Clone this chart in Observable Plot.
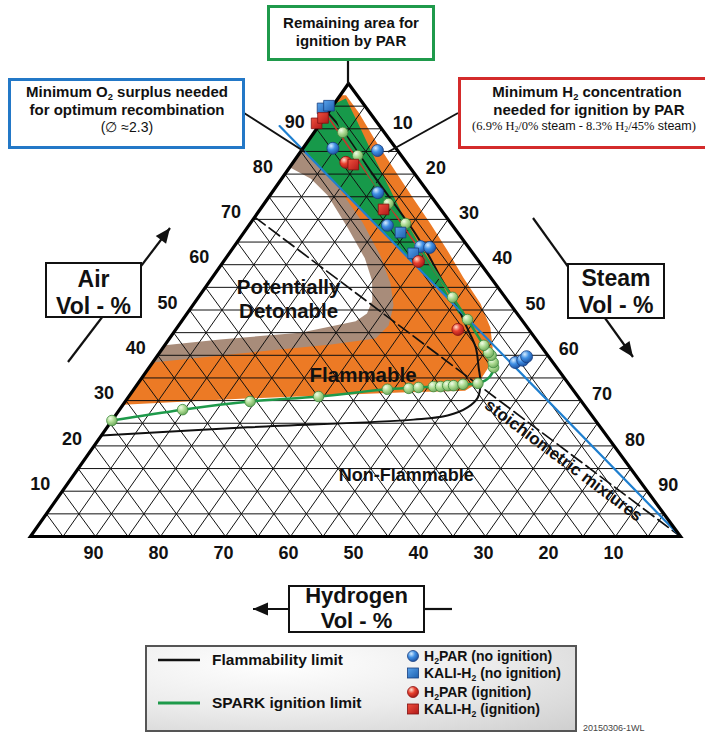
<!DOCTYPE html>
<html>
<head>
<meta charset="utf-8">
<script src="https://cdn.jsdelivr.net/npm/d3@7"></script>
<script src="https://cdn.jsdelivr.net/npm/@observablehq/plot@0.6"></script>
<style>
html,body{margin:0;padding:0;background:#fff;}
#wrap{position:relative;width:705px;height:733px;overflow:hidden;font-family:"Liberation Sans",Arial,Helvetica,sans-serif;color:#111;}
#chart,#overlay{position:absolute;left:0;top:0;}
.box{position:absolute;box-sizing:border-box;background:#fff;}
.t{position:absolute;white-space:nowrap;font-weight:bold;transform:translate(-50%,-50%);line-height:1;}
.tl{position:absolute;white-space:nowrap;font-weight:bold;transform:translateY(-50%);line-height:1;}
.sb{font-size:62%;position:relative;top:0.3em;line-height:0;}
</style>
</head>
<body>
<div id="wrap">
<svg width="0" height="0" style="position:absolute">
 <defs>
  <radialGradient id="gBlue" cx="35%" cy="30%" r="75%">
   <stop offset="0" stop-color="#d6ecff"/><stop offset="0.45" stop-color="#3f8fe4"/><stop offset="1" stop-color="#1b4e9c"/>
  </radialGradient>
  <radialGradient id="gRed" cx="35%" cy="30%" r="75%">
   <stop offset="0" stop-color="#ffe0d0"/><stop offset="0.45" stop-color="#e8402e"/><stop offset="1" stop-color="#a01818"/>
  </radialGradient>
  <radialGradient id="gGreen" cx="35%" cy="30%" r="75%">
   <stop offset="0" stop-color="#f2fce8"/><stop offset="0.5" stop-color="#a9d98e"/><stop offset="1" stop-color="#6aa55a"/>
  </radialGradient>
  <linearGradient id="gBlueSq" x1="0" y1="0" x2="1" y2="1">
   <stop offset="0" stop-color="#5aa3ec"/><stop offset="1" stop-color="#1d5fae"/>
  </linearGradient>
  <linearGradient id="gRedSq" x1="0" y1="0" x2="1" y2="1">
   <stop offset="0" stop-color="#f0503e"/><stop offset="1" stop-color="#b01818"/>
  </linearGradient>
 </defs>
</svg>
<div id="chart"></div>
<svg id="overlay" width="705" height="733"></svg>
</div>
<script>
// ---------- DATA (ternary values, [air %, steam %]; hydrogen = 100 - air - steam) ----------
const gridLevels = [5,10,15,20,25,30,35,40,45,50,55,60,65,70,75,80,85,90,95];
const airTicks = [10,20,30,40,50,60,70,80,90];
const steamTicks = [10,20,30,40,50,60,70,80,90];
const hydrogenTicks = [90,80,70,60,50,40,30,20,10];

// flammable region (orange)
const flammableArea = [[29.1,0],[30.5,18.9],[31.8,41.3],[32.2,51.1],[34.0,52.3],[37.1,52.2],[41.7,50.7],[46.1,48.2],[51.4,44.1],[57.2,38.6],[63.1,33.3],[69.1,27.7],[74.6,22.4],[80.4,16.9],[87.4,10.3],[93.6,4.7],[97.4,0.9],[97.4,0]];
// transition band around the detonable region (taupe)
const detonableHalo = [[85.2,0],[83.0,3.2],[76.4,10.3],[69.3,17.2],[62.0,23.5],[55.8,28.1],[51.0,30.9],[46.6,32.3],[43.7,31.7],[42.4,25.5],[40.4,12.5],[38.4,0]];
// potentially detonable region (white)
const detonableArea = [[81.5,0],[79.0,4.5],[75.3,8.9],[68.0,15.6],[61.4,21.4],[56.5,24.9],[52.1,27.1],[49.2,27.7],[47.5,26.8],[45.0,19.5],[43.5,7.9],[42.2,0]];
// remaining area for ignition by PAR (green)
const parIgnitionArea = [[96.7,1.2],[91.8,5.3],[83.0,12.5],[72.0,21.7],[63.6,28.9],[56.1,35.7],[49.4,41.6],[45.5,46.6],[50,41.5],[60,29.8],[70,18.1],[80,6.4],[85.5,0],[95.5,0]];

// lines
const flammabilityLimit = [[22.3,0],[24.1,21.6],[25.8,46.3],[26.7,51.1],[28.5,53.3],[30.7,53.8],[33.8,52.7],[37.3,50.7],[41.7,48.1],[46.1,44.6],[51.4,40.3],[57.2,35.1],[62.5,30.5],[67.5,25.9],[80,13.5],[90,3.8],[93.5,0]];
const sparkLimit = [[25.6,0],[28.0,9.7],[29.8,19.2],[30.9,29.2],[32.5,39.0],[33.1,45.8],[33.6,50.1],[33.8,52.3],[35.3,53.4],[37.3,53.0],[40.0,51.3],[42.2,49.1],[47.9,43.8],[52.8,39.1],[64.0,28.5],[69.1,23.9],[73.5,19.1],[84.1,9.2],[89.2,4.4],[94.5,0.5]];
const o2SurplusLine = [[90.6,-6],[0,100]];        // H2/air ≈ 0.17
const h2MinLine = [[93.1,0],[46.7,45]];           // 6.9% H2 / 0% steam – 8.3% H2 / 45% steam
const stoichLine = [[70.5,0],[0,100]];            // stoichiometric H2/air

// test points
const sparkTests = [[25.6,0],[28.0,9.7],[29.8,19.2],[30.9,29.2],[32.5,39.0],[32.7,42.2],[32.9,43.6],[33.1,45.8],[33.1,46.9],[33.3,47.9],[33.3,48.8],[33.6,50.1],[33.8,52.3],[37.3,53.0],[38.4,52.4],[40.0,51.3],[40.6,50.6],[42.2,49.1],[47.9,43.8],[52.8,39.1],[64.0,28.5],[69.1,23.9],[73.5,19.1],[84.1,9.2],[89.2,4.4]];
const h2parNoIgnition = [[85.2,11.7],[85.7,4.6],[75.9,16.3],[68.7,21.3],[64.0,28.7],[63.8,30.2],[38.4,55.8],[38.9,56.7],[39.7,56.9]];
const kaliNoIgnition = [[94.5,-1.3],[95.1,-0.6],[67.1,24.1],[62.5,28.3]];
const h2parIgnition = [[82.6,8.1],[60.7,30.0],[45.7,43.4]];
const kaliIgnition = [[91.2,-0.6],[92.4,-0.2],[82.1,9.5],[72.2,19.0]];

// region labels (ternary anchor points)
const regionLabels = [
  {text:"Potentially", air:55.0, steam:12.8, size:20.5},
  {text:"Detonable", air:49.7, steam:15.4, size:20.5},
  {text:"Flammable", air:35.5, steam:33.8, size:20.5},
  {text:"Non-Flammable", air:13.5, steam:51.2, size:18}
];
const stoichLabel = [{text:"stoichiometric mixtures", air:16.8, steam:73.8}];

// ---------- GEOMETRY ----------
const FONT = '"Liberation Sans", Arial, Helvetica, sans-serif';
const AX = 0.4892;                        // horizontal position of the apex along the base
const P = d => d[1] + AX * d[0];          // x from [air, steam]
const Q = d => d[0];                      // y = air
const triangle = [[100,0],[0,0],[0,100]];

const gridSegs = [];
for (const v of gridLevels) {
  gridSegs.push({p1:[v,0], p2:[v,100-v]});          // constant air
  gridSegs.push({p1:[100-v,0], p2:[0,100-v]});      // constant hydrogen
  gridSegs.push({p1:[100-v,v], p2:[0,v]});          // constant steam
}

const txt = {fontFamily: FONT, fontWeight: "bold", fill: "#111"};

const chart = Plot.plot({
  width: 705, height: 733,
  marginTop: 83, marginBottom: 197, marginLeft: 30, marginRight: 25,
  x: {domain: [0,100], axis: null},
  y: {domain: [0,100], axis: null},
  style: {background: "transparent", overflow: "visible", fontFamily: FONT},
  marks: [
    Plot.line(flammableArea, {x:P, y:Q, curve:"linear-closed", fill:"#ec7a25", stroke:"none"}),
    Plot.line(detonableHalo, {x:P, y:Q, curve:"linear-closed", fill:"#a88c7a", stroke:"none"}),
    Plot.line(detonableArea, {x:P, y:Q, curve:"linear-closed", fill:"#ffffff", stroke:"none"}),
    Plot.line(parIgnitionArea, {x:P, y:Q, curve:"linear-closed", fill:"#17994a", stroke:"none"}),
    Plot.link(gridSegs, {x1:d=>P(d.p1), y1:d=>Q(d.p1), x2:d=>P(d.p2), y2:d=>Q(d.p2), stroke:"#111", strokeWidth:1}),
    Plot.line(stoichLine, {x:P, y:Q, stroke:"#111", strokeWidth:1.7, strokeDasharray:"13,5"}),
    Plot.line(flammabilityLimit, {x:P, y:Q, stroke:"#111", strokeWidth:2, curve:"catmull-rom"}),
    Plot.line(o2SurplusLine, {x:P, y:Q, stroke:"#1f7fcf", strokeWidth:2.2}),
    Plot.line(h2MinLine, {x:P, y:Q, stroke:"#c8332b", strokeWidth:1.6}),
    Plot.line(sparkLimit, {x:P, y:Q, stroke:"#1e9a4a", strokeWidth:2.5, curve:"catmull-rom"}),
    Plot.line(triangle, {x:P, y:Q, curve:"linear-closed", stroke:"#000", strokeWidth:3.2, strokeLinejoin:"miter", strokeMiterlimit:10}),
    Plot.dot(sparkTests, {x:P, y:Q, r:5.3, fill:"url(#gGreen)", stroke:"#3e8a3e", strokeWidth:0.8}),
    Plot.dot(h2parNoIgnition, {x:P, y:Q, r:6, fill:"url(#gBlue)", stroke:"#1a3f80", strokeWidth:0.8}),
    Plot.dot(kaliNoIgnition, {x:P, y:Q, symbol:"square", r:6, fill:"url(#gBlueSq)", stroke:"#173f80", strokeWidth:0.8}),
    Plot.dot(h2parIgnition, {x:P, y:Q, r:6, fill:"url(#gRed)", stroke:"#8a1010", strokeWidth:0.8}),
    Plot.dot(kaliIgnition, {x:P, y:Q, symbol:"square", r:6, fill:"url(#gRedSq)", stroke:"#801010", strokeWidth:0.8}),
    Plot.text(airTicks, {x:a=>P([a,0]), y:a=>a, text:a=>String(a), dx:-22, dy:-7, fontSize:18, ...txt}),
    Plot.text(steamTicks, {x:s=>P([100-s,s]), y:s=>100-s, text:s=>String(s), dx:21, dy:-6, fontSize:18, ...txt}),
    Plot.text(hydrogenTicks, {x:h=>P([0,100-h]), y:()=>0, text:h=>String(h), dx:-2, dy:17, fontSize:18, ...txt}),
    Plot.text(regionLabels, {x:d=>P([d.air,d.steam]), y:d=>d.air, text:"text", fontSize:d=>d.size, ...txt}),
    Plot.text(stoichLabel, {x:d=>P([d.air,d.steam]), y:d=>d.air, text:"text", rotate:36.8, fontSize:17, ...txt})
  ]
});
document.getElementById("chart").appendChild(chart);

// ---------- ANNOTATION FRAME (boxes, arrows, legend) ----------
const wrap = document.getElementById("wrap");
const ov = d3.select("#overlay");
function seg(x1,y1,x2,y2,w,c){ ov.append("line").attr("x1",x1).attr("y1",y1).attr("x2",x2).attr("y2",y2).attr("stroke",c||"#111").attr("stroke-width",w||2); }
function arrow(x1,y1,x2,y2){
  seg(x1,y1,x2,y2,2.2);
  const L=Math.hypot(x2-x1,y2-y1), ux=(x2-x1)/L, uy=(y2-y1)/L, hl=15, hw=6.5;
  const bx=x2-ux*hl, by=y2-uy*hl;
  ov.append("polygon").attr("points",[[x2,y2],[bx-uy*hw,by+ux*hw],[bx+uy*hw,by-ux*hw]].map(p=>p.join(",")).join(" ")).attr("fill","#111");
}
// connectors
seg(348,60,348,84,2.2);
seg(244,113,305,152,2);
seg(458,113,388,152,2);
// axis arrows
arrow(68,362,170,228);
arrow(533,218,633,357);
seg(425,609,452,609,2.2);
arrow(300,609,253,609);

function box(l,t,w,h,bw,c,bg){ const d=document.createElement("div"); d.className="box";
  Object.assign(d.style,{left:l+"px",top:t+"px",width:w+"px",height:h+"px",border:bw+"px solid "+c}); if(bg) d.style.background=bg; wrap.appendChild(d); return d; }
function label(html,x,y,size,opts){ const d=document.createElement("div"); d.className=(opts&&opts.left)?"tl":"t";
  d.innerHTML=html; Object.assign(d.style,{left:x+"px",top:y+"px",fontSize:size+"px"}); if(opts&&opts.style) Object.assign(d.style,opts.style); wrap.appendChild(d); return d; }
const S2 = '<span class="sb">2</span>';

box(267,5,168,56,3,"#1f9a4b");
label("Remaining area for",351,22,15);
label("ignition by PAR",351,40,15);

box(8,78,237,71,3,"#2378c7");
label("Minimum O"+S2+" surplus needed",127,91,15);
label("for optimum recombination",127,109,15);
label("(∅ ≈2.3)",127,127,14,{style:{fontWeight:"normal"}});

box(458,77,260,72,3,"#d42b2b");
label("Minimum H"+S2+" concentration",587,91,15);
label("needed for ignition by PAR",589,109,15);
label('(6.9% H'+S2+'/0% <span style="font-family:Liberation Sans,Arial,sans-serif">steam</span> - 8.3% H'+S2+'/45% <span style="font-family:Liberation Sans,Arial,sans-serif">steam</span>)',584,126,12.5,{style:{fontWeight:"normal",fontFamily:"'Liberation Serif','Times New Roman',serif"}});

box(45,262,97,56,2,"#111");
label("Air",93.5,279,23); label("Vol - %",93.5,306,23);
box(567,263,98,56,2,"#111");
label("Steam",616,278,23); label("Vol - %",616,305,23);
box(288,585,137,48,2,"#111");
label("Hydrogen",356.5,596,22); label("Vol - %",356.5,621,22);

// legend
box(145,645,432,87,2,"#555","radial-gradient(ellipse at 30% 20%, #ffffff 0%, #ececec 50%, #cfcfcf 100%)");
const lg = d3.select(wrap).append("svg").attr("width",705).attr("height",733).style("position","absolute").style("left","0").style("top","0");
lg.append("line").attr("x1",158).attr("x2",200).attr("y1",660).attr("y2",660).attr("stroke","#111").attr("stroke-width",2.5);
lg.append("line").attr("x1",158).attr("x2",200).attr("y1",703).attr("y2",703).attr("stroke","#1e9a4a").attr("stroke-width",3);
lg.append("circle").attr("cx",413).attr("cy",656).attr("r",5.5).attr("fill","url(#gBlue)").attr("stroke","#1a3f80").attr("stroke-width",0.8);
lg.append("rect").attr("x",407.5).attr("y",668).attr("width",11).attr("height",10).attr("fill","url(#gBlueSq)").attr("stroke","#173f80").attr("stroke-width",0.8);
lg.append("circle").attr("cx",413).attr("cy",692).attr("r",5.5).attr("fill","url(#gRed)").attr("stroke","#8a1010").attr("stroke-width",0.8);
lg.append("rect").attr("x",407.5).attr("y",704).attr("width",11).attr("height",10).attr("fill","url(#gRedSq)").attr("stroke","#801010").attr("stroke-width",0.8);
label("Flammability limit",212,660,15.5,{left:true});
label("SPARK ignition limit",212,703,15.5,{left:true});
label("H"+S2+"PAR (no ignition)",424,656,14,{left:true});
label("KALI-H"+S2+" (no ignition)",424,673,14,{left:true});
label("H"+S2+"PAR (ignition)",424,692,14,{left:true});
label("KALI-H"+S2+" (ignition)",424,709,14,{left:true});
label("20150306-1WL",583,728,9,{left:true,style:{fontWeight:"normal",color:"#444"}});
</script>
</body>
</html>
